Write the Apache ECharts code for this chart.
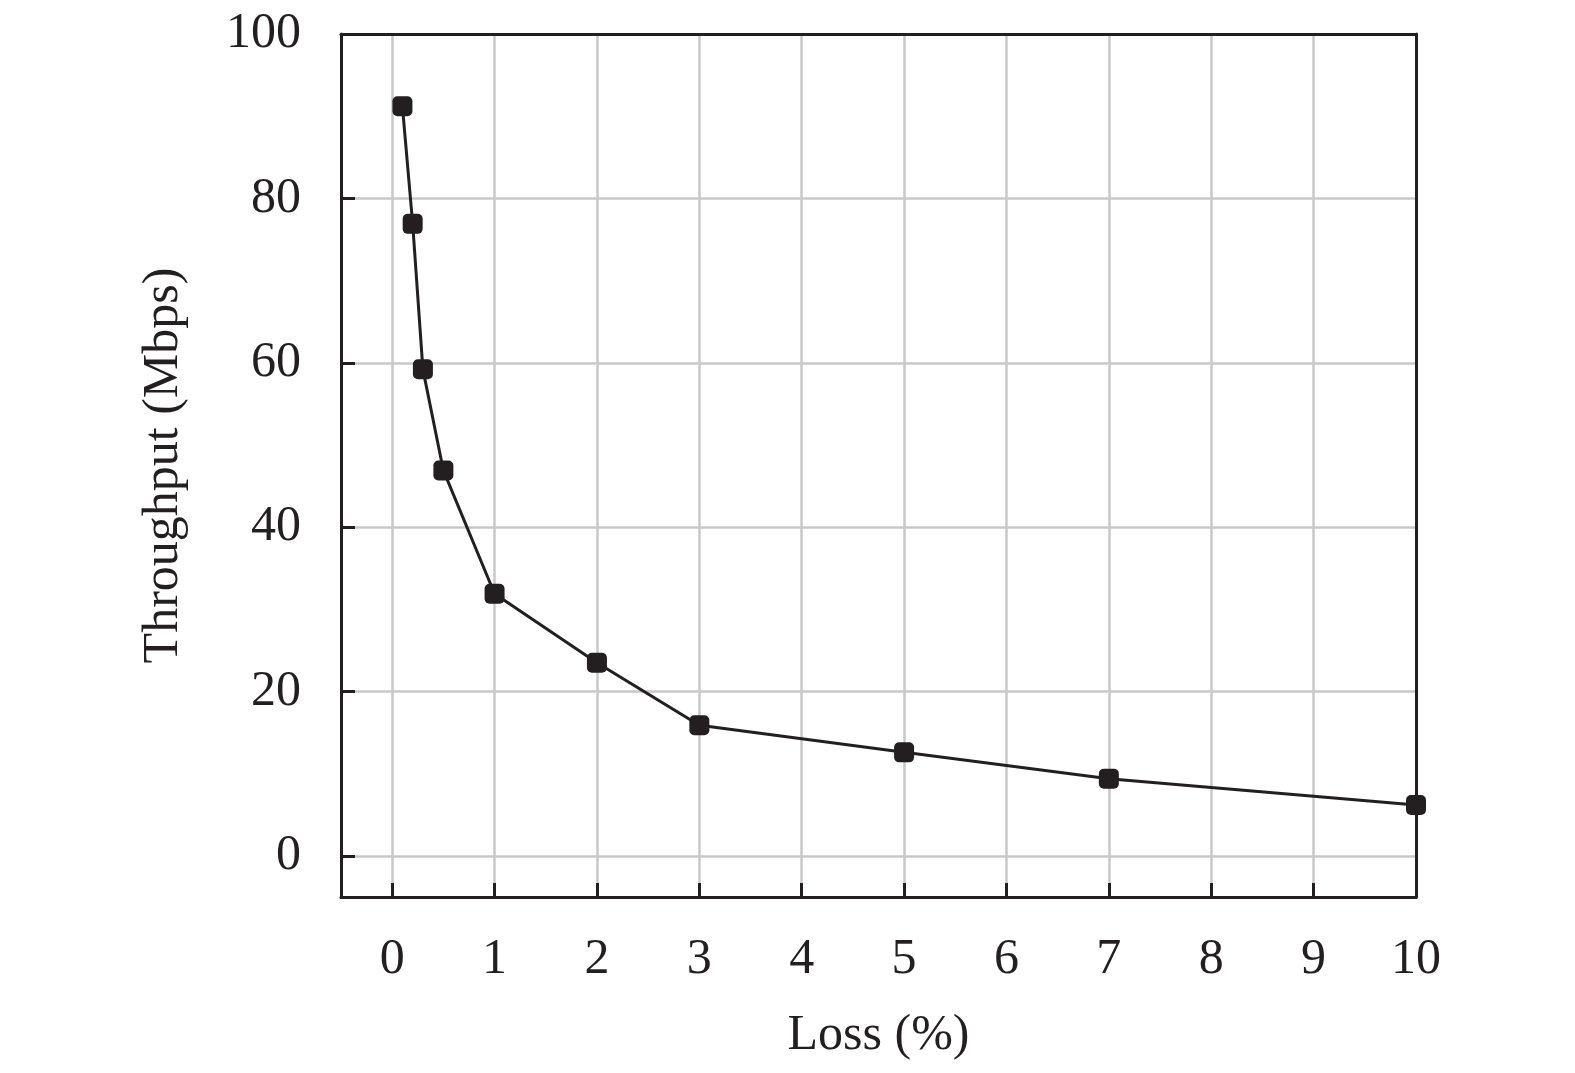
<!DOCTYPE html>
<html>
<head>
<meta charset="utf-8">
<script src="https://cdn.jsdelivr.net/npm/echarts@6/dist/echarts.min.js"></script>
<style>
  html, body { margin: 0; padding: 0; background: #fff; }
  #main { width: 1575px; height: 1073px; }
</style>
</head>
<body>
<div id="main"></div>
<script>
var lossValues = [0.1, 0.2, 0.3, 0.5, 1, 2, 3, 5, 7, 10];
var throughput = [91.2, 76.9, 59.2, 46.9, 31.9, 23.5, 15.9, 12.6, 9.4, 6.2];
var xTicks = [0, 1, 2, 3, 4, 5, 6, 7, 8, 9, 10];
var yTicks = [0, 20, 40, 60, 80, 100];

var ink = '#231f20';
var gridGrey = '#c8c8c8';
var font = 'Liberation Serif';

var points = [];
for (var i = 0; i < lossValues.length; i++) {
    points.push([lossValues[i], throughput[i]]);
}

// plain axis used only to draw the top / right sides of the frame
function frameAxis(min, max, pos) {
    return {
        type: 'value',
        min: min,
        max: max,
        position: pos,
        z: 10,
        axisLine: { show: true, onZero: false, lineStyle: { color: ink, width: 3 } },
        axisTick: { show: false },
        axisLabel: { show: false },
        splitLine: { show: false }
    };
}

var chart = echarts.init(document.getElementById('main'));

var option = {
    backgroundColor: '#fff',
    animation: false,
    grid: {
        left: 341,
        right: 159,
        top: 34,
        bottom: 176
    },
    xAxis: [{
        type: 'value',
        min: -0.5,
        max: 10,
        name: 'Loss (%)',
        nameLocation: 'middle',
        nameGap: 114,
        nameTextStyle: { fontFamily: font, fontSize: 50, color: ink },
        axisLine: { show: true, onZero: false, lineStyle: { color: ink, width: 3 } },
        axisTick: {
            show: true,
            inside: true,
            length: 14,
            customValues: xTicks,
            lineStyle: { color: ink, width: 3 }
        },
        axisLabel: {
            customValues: xTicks,
            margin: 38,
            fontFamily: font,
            fontSize: 50,
            color: ink
        },
        splitLine: { show: true, lineStyle: { color: gridGrey, width: 2.5 } }
    }, frameAxis(-0.5, 10, 'top')],
    yAxis: [{
        type: 'value',
        min: -5,
        max: 100,
        name: 'Throughput (Mbps)',
        nameLocation: 'middle',
        nameGap: 152,
        nameTextStyle: { fontFamily: font, fontSize: 50, color: ink },
        axisLine: { show: true, onZero: false, lineStyle: { color: ink, width: 3 } },
        axisTick: {
            show: true,
            inside: true,
            length: 14,
            customValues: yTicks,
            lineStyle: { color: ink, width: 3 }
        },
        axisLabel: {
            customValues: yTicks,
            margin: 40,
            fontFamily: font,
            fontSize: 50,
            color: ink
        },
        splitLine: { show: true, lineStyle: { color: gridGrey, width: 2.5 } }
    }, frameAxis(-5, 100, 'right')],
    series: [{
        type: 'line',
        data: points,
        clip: false,
        z: 20,
        symbol: 'roundRect',
        symbolSize: 20,
        itemStyle: { color: ink },
        lineStyle: { color: ink, width: 3 }
    }]
};

chart.setOption(option);
</script>
</body>
</html>
